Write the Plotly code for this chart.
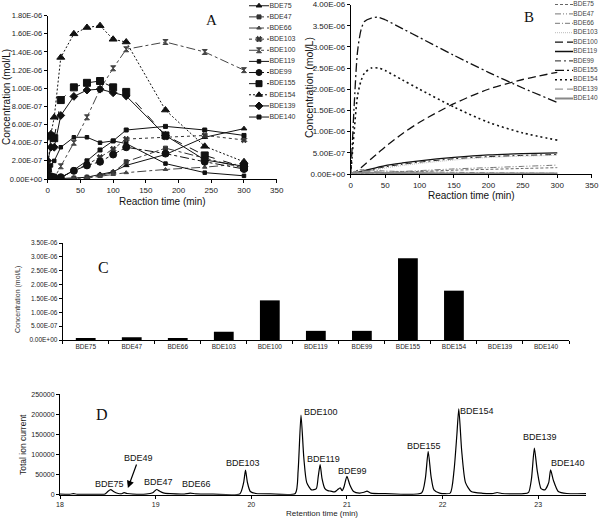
import plotly.graph_objects as go

W, H = 600, 520
FONT = "Liberation Sans, Arial, sans-serif"
SERIF = "Liberation Serif, Times New Roman, serif"

# ---------------- data ----------------
congeners = ["BDE75", "BDE47", "BDE66", "BDE103", "BDE100", "BDE119",
             "BDE99", "BDE155", "BDE154", "BDE139", "BDE140"]

# Panel A: measured concentrations (mol/L)
time_a = [0, 5, 10, 20, 40, 60, 80, 100, 120, 180, 240, 300]
a_bde75 = [0, 0, 0, 0.05e-7, 0.1e-7, 0.2e-7, 0.5e-7, 0.8e-7, 1.5e-7, 2.7e-7, 4.6e-7, 5.55e-7]
a_bde47 = [0, 0, 0, 0.05e-7, 0.1e-7, 0.2e-7, 0.4e-7, 0.7e-7, 1.9e-7, 3.4e-7, 2.3e-7, 1.2e-7]
a_bde66 = [0, 0, 0, 0, 0.05e-7, 0.1e-7, 0.3e-7, 0.5e-7, 0.7e-7, 1.05e-7, 1.3e-7, 1.7e-7]
a_bde103 = [0, 0, 0.05e-7, 0.2e-7, 0.9e-7, 1.6e-7, 2.4e-7, 3.3e-7, 4.4e-7, 4.6e-7, 4.8e-7, 4.3e-7]
a_bde100 = [0, 0, 0.1e-7, 1.4e-7, 4.0e-7, 6.8e-7, 9.9e-7, 12.2e-7, 14.3e-7, 15.1e-7, 14.0e-7, 12.0e-7]
a_bde119 = [0.5e-7, 1.5e-7, 2.0e-7, 3.5e-7, 4.6e-7, 4.6e-7, 4.0e-7, 4.2e-7, 3.9e-7, 1.7e-7, 0.7e-7, 0.35e-7]
a_bde99 = [1.0e-7, 0.3e-7, 0.2e-7, 0.2e-7, 0.9e-7, 1.5e-7, 1.9e-7, 2.7e-7, 3.5e-7, 2.8e-7, 1.9e-7, 1.1e-7]
a_bde155 = [1.2e-7, 4.7e-7, 4.5e-7, 8.7e-7, 10.1e-7, 10.6e-7, 10.8e-7, 10.1e-7, 9.6e-7, 4.8e-7, 2.6e-7, 1.3e-7]
a_bde154 = [1.0e-7, 5.0e-7, 6.8e-7, 13.4e-7, 16.0e-7, 16.7e-7, 16.9e-7, 15.4e-7, 15.1e-7, 7.6e-7, 3.6e-7, 1.9e-7]
a_bde139 = [2.0e-7, 3.5e-7, 3.5e-7, 7.0e-7, 9.1e-7, 9.8e-7, 9.9e-7, 9.5e-7, 9.15e-7, 4.8e-7, 2.1e-7, 1.4e-7]
a_bde140 = [0, 0, 0, 0.1e-7, 1.0e-7, 2.0e-7, 3.2e-7, 4.2e-7, 5.4e-7, 5.8e-7, 5.4e-7, 4.8e-7]

# Panel B: simulated concentrations (mol/L)
time_b = [0, 2, 5, 10, 15, 20, 30, 40, 50, 75, 100, 150, 200, 250, 300]
b_bde75 = [0, 0, 0, 0, 0.01e-6, 0.01e-6, 0.02e-6, 0.02e-6, 0.03e-6, 0.05e-6, 0.06e-6, 0.09e-6, 0.11e-6, 0.13e-6, 0.15e-6]
b_bde47 = [0, 0, 0, 0.01e-6, 0.01e-6, 0.02e-6, 0.02e-6, 0.03e-6, 0.04e-6, 0.06e-6, 0.08e-6, 0.12e-6, 0.15e-6, 0.18e-6, 0.21e-6]
b_bde66 = [0, 0.03e-6, 0.06e-6, 0.09e-6, 0.1e-6, 0.1e-6, 0.09e-6, 0.08e-6, 0.07e-6, 0.06e-6, 0.05e-6, 0.04e-6, 0.03e-6, 0.025e-6, 0.02e-6]
b_bde103 = [0, 0, 0.01e-6, 0.02e-6, 0.04e-6, 0.05e-6, 0.08e-6, 0.11e-6, 0.14e-6, 0.2e-6, 0.25e-6, 0.33e-6, 0.39e-6, 0.42e-6, 0.44e-6]
b_bde100 = [0, 0.01e-6, 0.03e-6, 0.08e-6, 0.15e-6, 0.22e-6, 0.36e-6, 0.5e-6, 0.64e-6, 0.95e-6, 1.22e-6, 1.66e-6, 2.0e-6, 2.23e-6, 2.4e-6]
b_bde119 = [0, 0.01e-6, 0.02e-6, 0.04e-6, 0.06e-6, 0.08e-6, 0.12e-6, 0.16e-6, 0.2e-6, 0.26e-6, 0.31e-6, 0.39e-6, 0.45e-6, 0.48e-6, 0.5e-6]
b_bde99 = [0, 0, 0.01e-6, 0.03e-6, 0.05e-6, 0.07e-6, 0.1e-6, 0.14e-6, 0.17e-6, 0.23e-6, 0.28e-6, 0.36e-6, 0.41e-6, 0.44e-6, 0.46e-6]
b_bde155 = [0, 0.6e-6, 1.6e-6, 2.9e-6, 3.4e-6, 3.6e-6, 3.68e-6, 3.7e-6, 3.64e-6, 3.43e-6, 3.22e-6, 2.8e-6, 2.4e-6, 2.03e-6, 1.69e-6]
b_bde154 = [0, 0.4e-6, 1.0e-6, 1.85e-6, 2.2e-6, 2.38e-6, 2.5e-6, 2.5e-6, 2.44e-6, 2.22e-6, 2.0e-6, 1.58e-6, 1.22e-6, 0.97e-6, 0.8e-6]
b_bde139 = [0, 0.02e-6, 0.04e-6, 0.06e-6, 0.07e-6, 0.07e-6, 0.06e-6, 0.05e-6, 0.04e-6, 0.03e-6, 0.02e-6, 0.01e-6, 0.01e-6, 0.005e-6, 0]
b_bde140 = [0, 0.01e-6, 0.02e-6, 0.03e-6, 0.03e-6, 0.03e-6, 0.03e-6, 0.03e-6, 0.02e-6, 0.02e-6, 0.02e-6, 0.01e-6, 0.01e-6, 0.01e-6, 0.01e-6]

# Panel C: bar concentrations (mol/L)
c_values = [0.04e-6, 0.1e-6, 0.04e-6, 0.3e-6, 1.43e-6, 0.33e-6, 0.33e-6, 2.95e-6, 1.78e-6, 0, 0]

# Panel D: chromatogram
rt_min = [18.00, 18.10, 18.14, 18.18, 18.30, 18.47, 18.50, 18.53, 18.56, 18.60, 18.64,
          18.67, 18.70, 18.76, 18.90, 18.97, 19.01, 19.04, 19.08, 19.15, 19.30, 19.36,
          19.42, 19.60, 19.88, 19.92, 19.94, 19.96, 19.99, 20.05, 20.20, 20.46, 20.49,
          20.52, 20.55, 20.58, 20.63, 20.68, 20.70, 20.72, 20.74, 20.77, 20.80, 20.83,
          20.87, 20.90, 20.93, 20.95, 20.97, 21.00, 21.03, 21.07, 21.13, 21.18, 21.21,
          21.25, 21.40, 21.78, 21.82, 21.85, 21.88, 21.91, 21.97, 22.08, 22.12, 22.15,
          22.17, 22.20, 22.24, 22.30, 22.42, 22.53, 22.57, 22.62, 22.85, 22.90, 22.93,
          22.96, 22.99, 23.03, 23.07, 23.11, 23.13, 23.16, 23.21, 23.30, 23.50]
tic = [1500, 1000, 2500, 1000, 1000, 1500, 8000, 12500, 8000, 3500, 2000,
       5000, 3000, 1500, 1500, 5000, 13000, 9000, 4500, 2500, 1500, 4000,
       2000, 1500, 2000, 30000, 61000, 30000, 8000, 3000, 2000, 3000, 60000,
       198000, 90000, 30000, 12000, 15000, 45000, 75000, 40000, 15000, 10000, 9000,
       7000, 12000, 17000, 10000, 20000, 46000, 25000, 8000, 4000, 6000, 9000,
       4000, 2500, 4000, 40000, 108000, 45000, 12000, 4000, 4000, 60000, 150000,
       214000, 110000, 30000, 8000, 3500, 3000, 5500, 3000, 2500, 6000, 40000,
       116000, 60000, 15000, 12000, 30000, 62000, 35000, 8000, 3000, 2500]
peak_labels = ["BDE75", "BDE49", "BDE47", "BDE66", "BDE103", "BDE100", "BDE119",
               "BDE99", "BDE155", "BDE154", "BDE139", "BDE140"]
peak_label_rt = [18.52, 18.84, 19.03, 19.43, 19.91, 20.73, 20.76, 21.06, 21.81, 22.36, 23.02, 23.31]
peak_label_tic = [26600, 88900, 31600, 26600, 78900, 206000, 88900, 59000, 121300, 208400, 143700, 78900]

# tick labels
a_tickvals = [0, 2e-7, 4e-7, 6e-7, 8e-7, 1e-6, 1.2e-6, 1.4e-6, 1.6e-6, 1.8e-6]
a_ticktext = ["0.00E+00", "2.00E-07", "4.00E-07", "6.00E-07", "8.00E-07", "1.00E-06",
              "1.20E-06", "1.40E-06", "1.60E-06", "1.80E-06"]
bc_tickvals = [0, 5e-7, 1e-6, 1.5e-6, 2e-6, 2.5e-6, 3e-6, 3.5e-6, 4e-6]
bc_ticktext = ["0.00E+00", "5.00E-07", "1.00E-06", "1.50E-06", "2.00E-06", "2.50E-06",
               "3.00E-06", "3.50E-06", "4.00E-06"]

# ---------------- helpers ----------------
def fx(p):
    return p / W

def fy(p):
    return 1 - p / H

a_series = [a_bde75, a_bde47, a_bde66, a_bde103, a_bde100, a_bde119,
            a_bde99, a_bde155, a_bde154, a_bde139, a_bde140]
a_style = [  # dash, symbol, size, color
    ("solid", "triangle-up", 5, "#111"),
    ("dashdot", "square", 4, "#333"),
    ("dashdot", "triangle-up", 4, "#444"),
    ("dot", "x", 5, "#333"),
    ("dashdot", "hourglass", 5, "#444"),
    ("solid", "square", 3.5, "#111"),
    ("dashdot", "circle", 7, "#111"),
    ("dash", "square", 7, "#111"),
    ("2px,2px", "triangle-up", 7, "#111"),
    ("solid", "diamond", 6, "#111"),
    ("solid", "square", 4, "#111"),
]
b_series = [b_bde75, b_bde47, b_bde66, b_bde103, b_bde100, b_bde119,
            b_bde99, b_bde155, b_bde154, b_bde139, b_bde140]
b_style = [  # dash, color, width
    ("3px,2px", "#666", 1),
    ("6px,2px,1px,2px,1px,2px", "#777", 1),
    ("5px,2px,1px,2px", "#777", 1),
    ("1px,1px", "#bbb", 1),
    ("8px,4px", "#111", 1.3),
    ("solid", "#111", 1.3),
    ("6px,3px,2px,3px", "#222", 1),
    ("9px,3px,2px,3px", "#111", 1.3),
    ("2px,3px", "#111", 1.6),
    ("8px,4px", "#999", 1.3),
    ("solid", "#888", 2),
]

fig = go.Figure()

# Panel A
for name, ys, (dash, sym, size, col) in zip(congeners, a_series, a_style):
    fig.add_trace(go.Scatter(x=time_a, y=ys, mode="lines+markers", name=name,
                             line=dict(color=col, width=1, dash=dash),
                             marker=dict(symbol=sym, size=size, color=col,
                                         line=dict(color=col, width=1)),
                             xaxis="x", yaxis="y", showlegend=False))

# Legend A (drawn in its own small axes)
for i, (name, (dash, sym, size, col)) in enumerate(zip(congeners, a_style)):
    fig.add_trace(go.Scatter(x=[0, 1], y=[i, i], mode="lines",
                             line=dict(color=col, width=1, dash=dash),
                             xaxis="x5", yaxis="y5", showlegend=False))
    fig.add_trace(go.Scatter(x=[0.5], y=[i], mode="markers",
                             marker=dict(symbol=sym, size=min(size, 6), color=col,
                                         line=dict(color=col, width=1)),
                             xaxis="x5", yaxis="y5", showlegend=False))
fig.add_trace(go.Scatter(x=[1.02] * 11, y=list(range(11)), mode="text", text=congeners,
                         textposition="middle right", cliponaxis=False,
                         textfont=dict(family=FONT, size=7, color="#333"),
                         xaxis="x5", yaxis="y5", showlegend=False))

# Panel B
for name, ys, (dash, col, wid) in zip(congeners, b_series, b_style):
    fig.add_trace(go.Scatter(x=time_b, y=ys, mode="lines", name=name,
                             line=dict(color=col, width=wid, dash=dash, shape="spline",
                                       smoothing=0.8),
                             xaxis="x2", yaxis="y2", showlegend=False))

# Legend B
for i, (name, (dash, col, wid)) in enumerate(zip(congeners, b_style)):
    fig.add_trace(go.Scatter(x=[0, 1], y=[i, i], mode="lines",
                             line=dict(color=col, width=wid, dash=dash),
                             xaxis="x6", yaxis="y6", showlegend=False))
fig.add_trace(go.Scatter(x=[1.02] * 11, y=list(range(11)), mode="text", text=congeners,
                         textposition="middle right", cliponaxis=False,
                         textfont=dict(family=FONT, size=6.5, color="#444"),
                         xaxis="x6", yaxis="y6", showlegend=False))

# Panel C
fig.add_trace(go.Bar(x=congeners, y=c_values, marker=dict(color="black", line=dict(width=0)),
                     width=0.43, xaxis="x3", yaxis="y3", showlegend=False))

# Panel D
fig.add_trace(go.Scatter(x=rt_min, y=tic, mode="lines",
                         line=dict(color="black", width=1.2, shape="spline", smoothing=0.6),
                         xaxis="x4", yaxis="y4", showlegend=False))

# ---------------- axes ----------------
def axis(domain, anchor, tickfont_size=8, **kw):
    d = dict(domain=domain, anchor=anchor, showline=True, linecolor="black", linewidth=1,
             ticks="outside", ticklen=3, tickcolor="black", tickwidth=1,
             showgrid=False, zeroline=False, automargin=False,
             tickfont=dict(family=FONT, size=tickfont_size, color="#222"))
    d.update(kw)
    return d

hidden = dict(showline=False, showticklabels=False, ticks="", showgrid=False,
              zeroline=False, automargin=False)

fig.update_layout(
    template="none",
    width=W, height=H,
    margin=dict(l=0, r=0, t=0, b=0, pad=0, autoexpand=False),
    paper_bgcolor="white", plot_bgcolor="rgba(0,0,0,0)",
    showlegend=False,
    # Panel A
    xaxis=axis([fx(47.7), fx(276.7)], "y", range=[0, 350], tickvals=[0, 50, 100, 150, 200, 250, 300, 350]),
    yaxis=axis([fy(179), fy(15.7)], "x", tickfont_size=7.5, range=[0, 1.8e-6],
               tickvals=a_tickvals, ticktext=a_ticktext),
    # Panel B
    xaxis2=axis([fx(350.7), fx(591.7)], "y2", range=[0, 350], tickvals=[0, 50, 100, 150, 200, 250, 300, 350]),
    yaxis2=axis([fy(174), fy(4.5)], "x2", range=[0, 4e-6], tickvals=bc_tickvals, ticktext=bc_ticktext),
    # Panel C
    xaxis3=axis([fx(62.7), fx(569)], "y3", tickfont_size=6.5, type="category",
                tickson="boundaries", ticklen=3),
    yaxis3=axis([fy(340), fy(243)], "x3", tickfont_size=6.5, range=[0, 3.5e-6],
                tickvals=bc_tickvals[:8], ticktext=bc_ticktext[:8]),
    # Panel D
    xaxis4=axis([fx(60), fx(586)], "y4", tickfont_size=7, range=[18, 23.5],
                tickvals=[18, 19, 20, 21, 22, 23]),
    yaxis4=axis([fy(494.7), fy(394.3)], "x4", tickfont_size=7, range=[0, 250000],
                tickvals=[0, 50000, 100000, 150000, 200000, 250000], tickformat="d"),
    # Legend axes
    xaxis5=dict(domain=[fx(249), fx(300)], anchor="y5", range=[0, 2.55], **hidden),
    yaxis5=dict(domain=[fy(122.6), fy(0.2)], anchor="x5", range=[10.5, -0.5], **hidden),
    xaxis6=dict(domain=[fx(555), fx(600)], anchor="y6", range=[0, 2.5], **hidden),
    yaxis6=dict(domain=[fy(103.4), fy(0)], anchor="x6", range=[10.521, -0.479], **hidden),
)

# ---------------- text ----------------
ann = []
def paper_text(x, y, text, size, family=FONT, angle=0, color="#111"):
    ann.append(dict(x=fx(x), y=fy(y), xref="paper", yref="paper", text=text,
                    showarrow=False, textangle=angle, xanchor="center", yanchor="middle",
                    font=dict(family=family, size=size, color=color)))

paper_text(211, 20, "A", 15, SERIF)
paper_text(529, 17, "B", 15, SERIF)
paper_text(103, 267, "C", 16, SERIF)
paper_text(102, 414, "D", 16, SERIF)
paper_text(162, 202, "Reaction time (min)", 10)
paper_text(471, 195, "Reaction time (min)", 10)
paper_text(6, 97, "Concentration (mol/L)", 10, angle=-90)
paper_text(309, 88, "Concentration (mol/L)", 10.5, angle=-90)
paper_text(18, 300, "Concentration (mol/L)", 7, angle=-90, color="#333")
paper_text(23, 445, "Total ion current", 8.5, angle=-90, color="#222")
paper_text(322, 513, "Retention time (min)", 8, color="#222")

for lab, x, y in zip(peak_labels, peak_label_rt, peak_label_tic):
    if lab == "BDE49":
        ann.append(dict(x=18.71, y=16700, xref="x4", yref="y4", text=lab,
                        showarrow=True, arrowhead=2, arrowsize=1.2, arrowwidth=1.2,
                        arrowcolor="black", ax=11, ay=-30,
                        font=dict(family=FONT, size=9, color="#111")))
    else:
        ann.append(dict(x=x, y=y, xref="x4", yref="y4", text=lab, showarrow=False,
                        xanchor="center", yanchor="middle",
                        font=dict(family=FONT, size=9, color="#111")))

fig.update_layout(annotations=ann)

fig.write_html("out.html", config={"displayModeBar": False},
               post_script="document.body.style.margin='0';document.body.style.overflow='hidden';")
